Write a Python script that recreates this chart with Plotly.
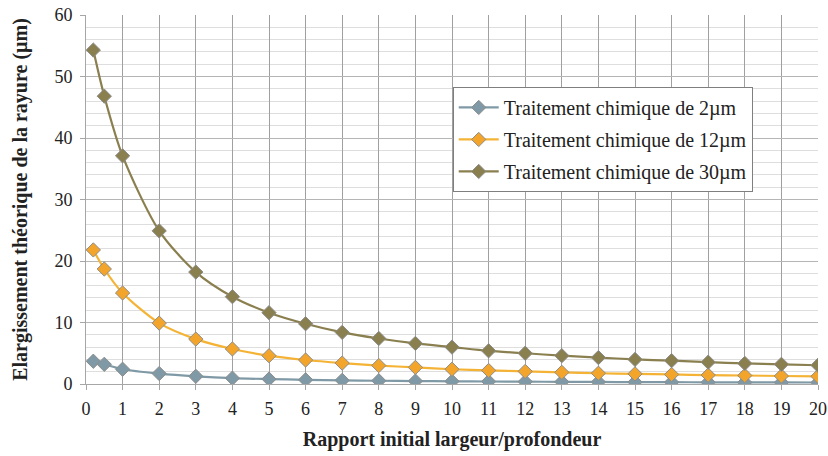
import plotly.graph_objects as go

ratio = [0.2, 0.5, 1, 2, 3, 4, 5, 6, 7, 8, 9, 10, 11, 12, 13, 14, 15, 16, 17, 18, 19, 20]

trait_2um = [3.7, 3.2, 2.4, 1.7, 1.25, 0.95, 0.8, 0.68, 0.6, 0.53, 0.48, 0.44, 0.41, 0.38, 0.35, 0.33, 0.31, 0.29, 0.28, 0.26, 0.25, 0.24]
trait_12um = [21.8, 18.7, 14.8, 9.9, 7.3, 5.7, 4.6, 3.9, 3.4, 3.0, 2.7, 2.4, 2.2, 2.05, 1.9, 1.75, 1.65, 1.55, 1.45, 1.38, 1.3, 1.25]
trait_30um = [54.3, 46.8, 37.1, 24.9, 18.2, 14.2, 11.6, 9.8, 8.4, 7.4, 6.6, 6.0, 5.4, 5.0, 4.6, 4.3, 4.0, 3.8, 3.55, 3.35, 3.2, 3.05]

series = [
    ("Traitement chimique de 2µm", trait_2um, "#7f9aa6", "#7f9aa6"),
    ("Traitement chimique de 12µm", trait_12um, "#f5b335", "#f2a52a"),
    ("Traitement chimique de 30µm", trait_30um, "#8a7f4f", "#8a7f4f"),
]

fig = go.Figure()
for i, (name, vals, line_col, mk_col) in enumerate(series):
    fig.add_trace(go.Scatter(
        x=ratio, y=vals, name=name, mode="lines+markers",
        line=dict(color=line_col, width=2.2, shape="spline", smoothing=0.8),
        marker=dict(symbol="diamond", size=11, color=mk_col,
                    line=dict(color="#8c8c8c", width=1)),
        legendgroup=str(i),
    ))

fig.update_layout(
    width=828, height=456,
    margin=dict(l=86, r=10, t=15, b=72, autoexpand=False),
    paper_bgcolor="white", plot_bgcolor="white",
    font=dict(family="Liberation Serif", size=18, color="#222222"),
    showlegend=True,
    legend=dict(
        x=0.501, y=0.805, xanchor="left", yanchor="top",
        bgcolor="white", bordercolor="#7f7f7f", borderwidth=1,
        font=dict(family="Liberation Serif", size=20, color="#222222"),
        tracegroupgap=3, itemwidth=40,
    ),
    xaxis=dict(
        range=[0, 20], dtick=1, tick0=0, automargin=False,
        showgrid=True, gridcolor="#a0a0a0", gridwidth=1,
        zeroline=False, showline=True, linecolor="#a6a6a6",
        ticks="outside", ticklen=5, tickcolor="#a6a6a6", ticklabelstandoff=3,
        ticklabeloverflow="allow",
        title=dict(text="<b>Rapport initial largeur/profondeur</b>", standoff=14,
                   font=dict(size=20)),
    ),
    yaxis=dict(
        range=[0, 60], dtick=10, automargin=False,
        showgrid=True, gridcolor="#b5b5b5", gridwidth=1,
        minor=dict(dtick=2, showgrid=True, gridcolor="#dedede"),
        zeroline=False, showline=True, linecolor="#a6a6a6",
        ticks="outside", ticklen=5, tickcolor="#a6a6a6", ticklabelstandoff=4,
        ticklabeloverflow="allow",
        title=dict(text="<b>Elargissement théorique de la rayure (µm)</b>", standoff=21,
                   font=dict(size=20)),
    ),
)

# drop the default 8px body margin so the figure fills the window
fig.write_html("out.html", config={"displayModeBar": False},
               post_script="document.body.style.margin='0';")
